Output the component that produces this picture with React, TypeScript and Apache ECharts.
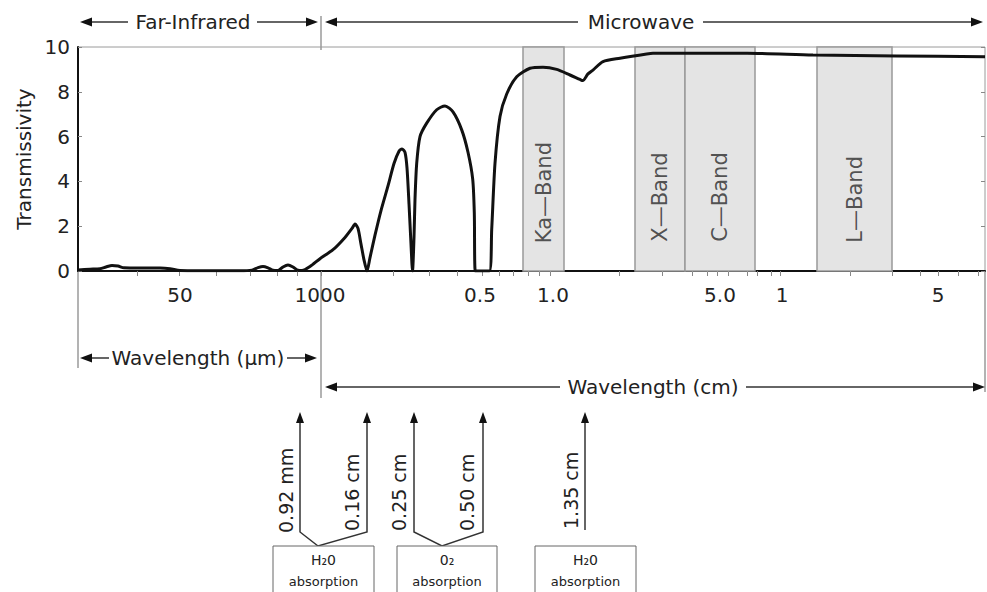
import React, { useEffect, useRef } from "react";
import * as echarts from "echarts";

// Position along the composite (μm | cm) wavelength scale, 0 = left edge, 907 = right edge
const curvePos = [0, 12, 22, 28, 34, 40, 46, 62, 82, 92, 102, 122, 162, 174, 180, 185, 190, 195, 200, 205, 210, 215, 220, 224, 232, 242, 255, 267, 274, 277, 280, 283, 286, 289, 292, 297, 303, 310, 316, 321, 324, 327, 329, 331, 333, 334.5, 336, 337, 338.7, 342, 348.7, 358.7, 367, 375, 383.7, 390, 394.7, 396.3, 397.3, 411.3, 413.7, 417, 422, 428.7, 438.7, 452, 465, 478.7, 492, 502, 504.7, 510, 515, 525, 542, 568.7, 575, 669, 735, 819, 907];
const curveT = [0.05, 0.08, 0.1, 0.18, 0.25, 0.22, 0.14, 0.13, 0.13, 0.1, 0.02, 0.01, 0.01, 0.04, 0.15, 0.2, 0.14, 0.03, 0.02, 0.18, 0.27, 0.18, 0.03, 0.02, 0.2, 0.55, 0.95, 1.5, 1.9, 2.1, 1.9, 1.2, 0.5, 0.0, 0.6, 1.6, 2.7, 3.8, 4.8, 5.35, 5.45, 5.3, 4.6, 3.0, 1.2, 0, 1.5, 3.2, 4.8, 6.0, 6.6, 7.2, 7.37, 7.1, 6.3, 5.3, 4.1, 2.6, 0, 0, 1.85, 4.8, 6.9, 7.9, 8.67, 9.05, 9.1, 9.0, 8.75, 8.55, 8.5, 8.8, 8.97, 9.35, 9.5, 9.69, 9.72, 9.72, 9.64, 9.6, 9.57];

const bandNames = ["Ka—Band", "X—Band", "C—Band", "L—Band"];
const bandStart = [445, 557, 607, 739];
const bandEnd = [486, 607, 677, 814];
const bandLabelT = [3.5, 3.3, 3.3, 3.2];

const xLabelPos = [102, 242, 402, 475, 642, 704, 860];
const xLabelText = ["50", "1000", "0.5", "1.0", "5.0", "1", "5"];
const xTickPos = [59, 101, 138, 172, 199, 219, 243, 315, 351, 379, 404, 421, 435, 450, 461, 472, 541, 584, 614, 629, 639, 650, 669, 679, 693, 702, 772, 814, 842, 860, 880, 900];

const absorptionLines = ["0.92 mm", "0.16 cm", "0.25 cm", "0.50 cm", "1.35 cm"];
const absorptionBoxes = ["H₂0", "0₂", "H₂0"];

const FONT = "'DejaVu Sans', 'Liberation Sans', Arial, sans-serif";
const TXT = "#222";
const LINE = "#333";
const GRAY = "#9a9a9a";

function head(tipX: number, y: number, dir: 1 | -1) {
  return {
    type: "polygon",
    shape: { points: [[tipX, y], [tipX - dir * 12, y - 4.5], [tipX - dir * 12, y + 4.5]] },
    style: { fill: "#111" },
  };
}
function hline(x1: number, x2: number, y: number, color = LINE, w = 1.5) {
  return { type: "line", shape: { x1, y1: y, x2, y2: y }, style: { stroke: color, lineWidth: w } };
}
function vline(x: number, y1: number, y2: number, color = GRAY, w = 1.5) {
  return { type: "line", shape: { x1: x, y1, x2: x, y2 }, style: { stroke: color, lineWidth: w } };
}
function label(text: string, x: number, y: number, size = 20, extra: any = {}) {
  return {
    type: "text",
    x,
    y,
    style: { text, fill: TXT, font: `${size}px ${FONT}`, textAlign: "center", textVerticalAlign: "middle", ...extra },
  };
}

export default function App() {
  const ref = useRef<HTMLDivElement>(null);
  useEffect(() => {
    if (!ref.current) return;
    const chart = echarts.init(ref.current, undefined, { renderer: "svg" });

    const upX = [300, 367, 414, 483, 585];
    const textX = [286, 352, 399, 467, 571];
    const textBottom = [533, 531, 531, 531, 529];
    const boxX = [273, 397, 535];
    const boxW = [101, 100, 101];

    const graphics: any[] = [
      head(80, 22, -1), hline(92, 128, 22),
      label("Far-Infrared", 193, 22),
      hline(257, 306, 22), head(318, 22, 1),
      vline(321, 16, 50),
      head(325, 22, -1), hline(337, 578, 22),
      label("Microwave", 641, 22),
      hline(703, 971, 22), head(983, 22, 1),
      vline(78, 272, 368), vline(321, 272, 398), vline(985, 272, 392),
      head(80, 358, -1), hline(92, 109, 358),
      label("Wavelength (μm)", 198, 358),
      hline(287, 305, 358), head(317, 358, 1),
      head(325, 387, -1), hline(337, 560, 387),
      label("Wavelength (cm)", 653, 387),
      hline(746, 973, 387), head(985, 387, 1),
      { type: "polyline", shape: { points: [[300, 420], [300, 532], [318, 546], [367, 532], [367, 420]] }, style: { stroke: LINE, lineWidth: 1.5, fill: null } },
      { type: "polyline", shape: { points: [[414, 420], [414, 532], [442, 546], [483, 532], [483, 420]] }, style: { stroke: LINE, lineWidth: 1.5, fill: null } },
      { type: "line", shape: { x1: 585, y1: 420, x2: 585, y2: 530 }, style: { stroke: LINE, lineWidth: 1.5 } },
    ];
    upX.forEach((x) => {
      graphics.push({ type: "polygon", shape: { points: [[x, 412], [x - 4, 423], [x + 4, 423]] }, style: { fill: "#111" } });
    });
    absorptionLines.forEach((t, i) => {
      graphics.push({
        type: "text",
        x: textX[i],
        y: textBottom[i],
        rotation: Math.PI / 2,
        style: { text: t, fill: TXT, font: `19px ${FONT}`, textAlign: "left", textVerticalAlign: "middle" },
      });
    });
    absorptionBoxes.forEach((t, i) => {
      graphics.push({ type: "rect", shape: { x: boxX[i], y: 546, width: boxW[i], height: 60 }, style: { fill: "#fff", stroke: "#666", lineWidth: 1 } });
      graphics.push(label(t, boxX[i] + boxW[i] / 2, 560, 14));
      graphics.push(label("absorption", boxX[i] + boxW[i] / 2, 581, 13));
    });

    chart.setOption({
      animation: false,
      textStyle: { fontFamily: FONT },
      grid: { left: 78, right: 2, top: 47, bottom: 321, show: true, borderColor: GRAY, borderWidth: 1 },
      xAxis: {
        type: "value",
        min: 0,
        max: 907,
        splitLine: { show: false },
        axisLine: { show: true, onZero: false, lineStyle: { color: "#111", width: 2 } },
        axisTick: { show: true, customValues: xTickPos, length: 5, lineStyle: { color: "#888", width: 1 } },
        axisLabel: {
          customValues: xLabelPos,
          formatter: (v: number) => {
            const i = xLabelPos.findIndex((p) => Math.abs(p - v) < 0.5);
            return i >= 0 ? xLabelText[i] : "";
          },
          fontSize: 20,
          color: TXT,
          margin: 14,
          fontFamily: FONT,
        },
      },
      yAxis: [
        {
          type: "value",
          min: 0,
          max: 10,
          interval: 2,
          splitLine: { show: false },
          axisLine: { show: true, lineStyle: { color: "#111", width: 2 } },
          axisTick: { show: true, inside: true, length: 4, lineStyle: { color: "#888" } },
          axisLabel: { fontSize: 20, color: TXT, margin: 8, fontFamily: FONT },
          name: "Transmissivity",
          nameLocation: "middle",
          nameGap: 42,
          nameTextStyle: { fontSize: 20, color: TXT, fontFamily: FONT },
        },
        {
          type: "value",
          position: "right",
          min: 0,
          max: 10,
          interval: 2,
          splitLine: { show: false },
          axisLine: { show: false },
          axisTick: { show: true, inside: true, length: 4, lineStyle: { color: "#888" } },
          axisLabel: { show: false },
        },
      ],
      series: [
        {
          type: "line",
          data: curvePos.map((p, i) => [p, curveT[i]]),
          showSymbol: false,
          smooth: 0.25,
          lineStyle: { color: "#111", width: 3 },
          z: 3,
          markArea: {
            silent: true,
            itemStyle: { color: "#e4e4e4", borderColor: "#999", borderWidth: 1.5 },
            data: bandNames.map((n, i) => [{ xAxis: bandStart[i] }, { xAxis: bandEnd[i] }]),
          },
        },
        {
          type: "scatter",
          symbolSize: 0,
          z: 4,
          data: bandNames.map((n, i) => ({ name: n, value: [(bandStart[i] + bandEnd[i]) / 2, bandLabelT[i]] })),
          label: { show: true, position: "inside", formatter: "{b}", rotate: 90, fontSize: 21, color: "#2a2a2a", fontFamily: FONT },
        },
      ],
      graphic: graphics,
    });
    return () => chart.dispose();
  }, []);
  return <div ref={ref} style={{ position: "fixed", left: 0, top: 0, width: 987, height: 592, background: "#fff" }} />;
}
